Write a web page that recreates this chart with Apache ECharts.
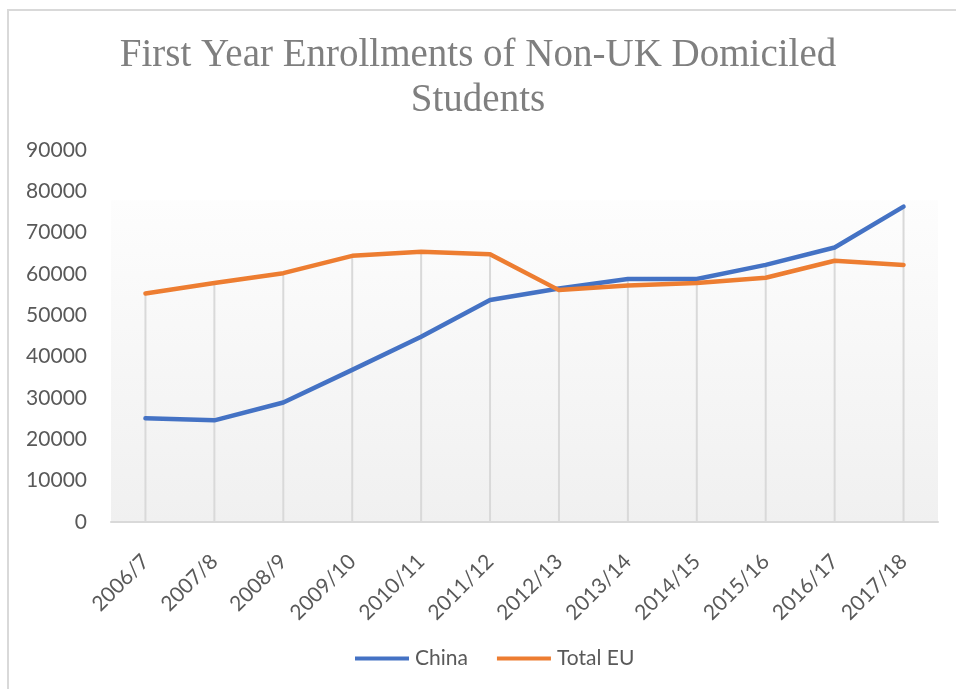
<!DOCTYPE html>
<html>
<head>
<meta charset="utf-8">
<script src="https://cdn.jsdelivr.net/npm/echarts@6/dist/echarts.min.js"></script>
<style>
  html, body { margin: 0; padding: 0; background: #fff; }
  #mychart { width: 956px; height: 689px; }
</style>
</head>
<body>
<div id="mychart"></div>
<script>
// academic years
var years = ['2006/7', '2007/8', '2008/9', '2009/10', '2010/11', '2011/12',
  '2012/13', '2013/14', '2014/15', '2015/16', '2016/17', '2017/18']
// first year enrolments
var china = [25100, 24600, 28900, 36800, 44800, 53700, 56500, 58800, 58800, 62200, 66400, 76300]
var totalEU = [55300, 57800, 60200, 64400, 65400, 64800, 56100, 57200, 57800, 59100, 63200, 62200]
var yTicks = [0, 10000, 20000, 30000, 40000, 50000, 60000, 70000, 80000, 90000]

// excel style drop lines go up to the higher of the two series
var dropLines = years.map(function (y, i) { return Math.max(china[i], totalEU[i]) })

var labelFont = 'Lato, "Noto Sans", sans-serif'

var chartDom = document.getElementById('mychart')
var myChart = echarts.init(chartDom)
var option = {
  animation: false,
  backgroundColor: '#ffffff',
  graphic: [
    {
      type: 'rect',
      shape: { x: 8, y: 10, width: 1000, height: 1000 },
      style: { fill: 'none', stroke: '#d9d9d9', lineWidth: 2 },
      silent: true
    }
  ],
  title: {
    text: 'First Year Enrollments of Non-UK Domiciled\nStudents',
    left: 'center',
    top: 28,
    textStyle: {
      fontFamily: '"Liberation Serif", serif',
      fontWeight: 'normal',
      fontSize: 39,
      lineHeight: 45,
      color: '#7f7f7f'
    }
  },
  legend: {
    bottom: 15,
    left: 350,
    icon: 'rect',
    itemWidth: 54,
    itemHeight: 4,
    itemGap: 29,
    data: ['China', 'Total EU'],
    textStyle: { fontFamily: labelFont, fontSize: 21, color: '#595959', padding: [0, 0, 0, 1] }
  },
  grid: {
    left: 111,
    right: 18,
    top: 150,
    bottom: 167,
    show: true,
    borderWidth: 0,
    backgroundColor: new echarts.graphic.LinearGradient(0, 0, 0, 1, [
      { offset: 0, color: '#ffffff' },
      { offset: 0.134, color: '#ffffff' },
      { offset: 0.136, color: '#fdfdfd' },
      { offset: 1, color: '#f0f0f0' }
    ])
  },
  xAxis: {
    type: 'category',
    data: years,
    boundaryGap: true,
    axisLine: { lineStyle: { color: '#d9d9d9', width: 2 } },
    axisTick: { show: false },
    axisLabel: {
      rotate: 45,
      margin: 36,
      interval: 0,
      fontFamily: labelFont,
      fontSize: 21,
      color: '#595959'
    },
    splitLine: { show: false }
  },
  yAxis: {
    type: 'value',
    min: yTicks[0],
    max: yTicks[yTicks.length - 1],
    interval: 10000,
    axisLine: { show: false },
    axisTick: { show: false },
    splitLine: { show: false },
    axisLabel: {
      margin: 24,
      fontFamily: labelFont,
      fontSize: 21,
      color: '#595959',
      formatter: function (v) { return String(v) }
    }
  },
  series: [
    {
      name: 'drop',
      type: 'bar',
      data: dropLines,
      barWidth: 2,
      silent: true,
      z: 1,
      itemStyle: { color: '#d9d9d9' }
    },
    {
      name: 'China',
      type: 'line',
      data: china,
      showSymbol: false,
      z: 3,
      lineStyle: { color: '#4472c4', width: 4.5, cap: 'round', join: 'round' },
      itemStyle: { color: '#4472c4' }
    },
    {
      name: 'Total EU',
      type: 'line',
      data: totalEU,
      showSymbol: false,
      z: 3,
      lineStyle: { color: '#ed7d31', width: 4.5, cap: 'round', join: 'round' },
      itemStyle: { color: '#ed7d31' }
    }
  ]
}
myChart.setOption(option)
</script>
</body>
</html>
